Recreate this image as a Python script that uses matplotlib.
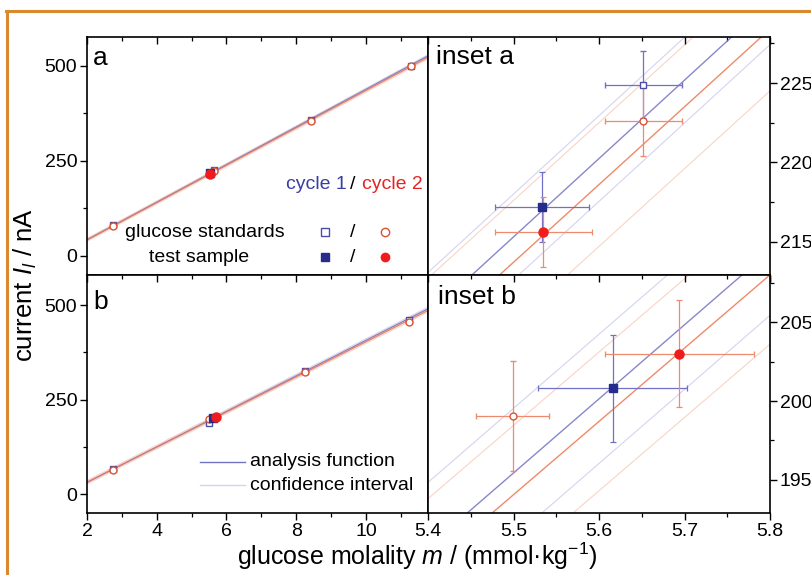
import numpy as np
import matplotlib
matplotlib.use("Agg")
import matplotlib.pyplot as plt
from matplotlib.lines import Line2D
from matplotlib.ticker import MultipleLocator

plt.rcParams['font.family'] = ['Liberation Sans', 'DejaVu Sans']
plt.rcParams['mathtext.fontset'] = 'custom'
plt.rcParams['mathtext.rm'] = 'Liberation Sans'
plt.rcParams['mathtext.it'] = 'Liberation Sans:italic'

# ---- data, panel a ----
std_m_a = [2.74, 5.652, 8.43, 11.29]
std_i1_a = [80.0, 224.9, 356.0, 500.0]
std_i2_a = [79.0, 222.6, 354.0, 498.0]
std_merr_a = [0.045, 0.045]
std_ierr_a = [2.1, 2.2]
test_m_a = [5.533, 5.535]
test_i_a = [217.2, 215.6]
test_merr_a = [0.055, 0.057]
test_ierr_a = [2.2, 2.2]
slope_a = [49.4, 49.0]
icpt_a = [-56.4, -55.8]
ci_a = [2.7, 3.9]

# ---- data, panel b ----
std_m1_b = [2.74, 5.499, 8.26, 11.23]
std_m2_b = [2.74, 5.499, 8.26, 11.23]
std_i1_b = [65.5, 189.0, 326.0, 462.0]
std_i2_b = [63.5, 199.05, 324.0, 455.0]
std_merr_b = [0.043, 0.043]
std_ierr_b = [3.4, 3.5]
test_m_b = [5.616, 5.694]
test_i_b = [200.8, 203.0]
test_merr_b = [0.087, 0.087]
test_ierr_b = [3.4, 3.4]
slope_b = [47.0, 46.5]
icpt_b = [-63.06, -61.69]
ci_b = [4.1, 4.4]

# colours
c_line = ['#7272c2', '#ec7650']
c_faint = ['#d4d4f0', '#f9d4c6']
c_err = ['#7070c8', '#f08a6c']
c_open = ['#4a4ea8', '#d85434']
c_fill = ['#262c8c', '#ee1c1c']
mk = ['s', 'o']

W, H = 811, 575
fig = plt.figure(figsize=(W / 100, H / 100), dpi=100)


def px(x, y):
    return x / W, 1 - y / H


def rect(x0, y0, x1, y1):
    return [x0 / W, 1 - y1 / H, (x1 - x0) / W, (y1 - y0) / H]


axa = fig.add_axes(rect(87, 37, 428, 275))
axb = fig.add_axes(rect(87, 275, 428, 513))
axia = fig.add_axes(rect(428, 37, 770, 275))
axib = fig.add_axes(rect(428, 275, 770, 513))


def draw(ax, xlim, slopes, icpts, cis, std_m, std_i, std_merr, std_ierr,
         t_m, t_i, t_merr, t_ierr, lw):
    xx = np.linspace(xlim[0], xlim[1], 50)
    for k in range(2):
        yy = slopes[k] * xx + icpts[k]
        ax.plot(xx, yy - cis[k], color=c_faint[k], lw=0.8, zorder=1)
        ax.plot(xx, yy + cis[k], color=c_faint[k], lw=0.8, zorder=1)
    for k in range(2):
        yy = slopes[k] * xx + icpts[k]
        ax.plot(xx, yy, color=c_line[k], lw=lw, alpha=0.85, zorder=2)
    for k in range(2):
        ax.errorbar(std_m[k], std_i[k], xerr=std_merr[k], yerr=std_ierr[k],
                    fmt=mk[k], ms=5, mfc='white', mec=c_open[k], mew=1.0,
                    ecolor=c_err[k], elinewidth=0.9, capsize=2, capthick=0.9,
                    zorder=3)
        ax.errorbar([t_m[k]], [t_i[k]], xerr=t_merr[k], yerr=t_ierr[k],
                    fmt=mk[k], ms=5.5 + k, mfc=c_fill[k], mec=c_fill[k],
                    ecolor=c_err[k], elinewidth=0.9, capsize=2, capthick=0.9,
                    zorder=4)
    ax.set_xlim(xlim)


draw(axa, (2, 11.78), slope_a, icpt_a, ci_a,
     [std_m_a, std_m_a], [std_i1_a, std_i2_a], std_merr_a, std_ierr_a,
     test_m_a, test_i_a, test_merr_a, test_ierr_a, 0.9)
draw(axia, (5.4, 5.8), slope_a, icpt_a, ci_a,
     [std_m_a, std_m_a], [std_i1_a, std_i2_a], std_merr_a, std_ierr_a,
     test_m_a, test_i_a, test_merr_a, test_ierr_a, 1.0)
draw(axb, (2, 11.78), slope_b, icpt_b, ci_b,
     [std_m1_b, std_m2_b], [std_i1_b, std_i2_b], std_merr_b, std_ierr_b,
     test_m_b, test_i_b, test_merr_b, test_ierr_b, 0.9)
draw(axib, (5.4, 5.8), slope_b, icpt_b, ci_b,
     [std_m1_b, std_m2_b], [std_i1_b, std_i2_b], std_merr_b, std_ierr_b,
     test_m_b, test_i_b, test_merr_b, test_ierr_b, 1.0)

axa.set_ylim(-50, 575)
axb.set_ylim(-50, 580)
axia.set_ylim(212.9, 227.9)
axib.set_ylim(192.9, 208.0)

for ax in (axa, axb):
    ax.xaxis.set_major_locator(MultipleLocator(2))
    ax.xaxis.set_minor_locator(MultipleLocator(1))
    ax.yaxis.set_major_locator(MultipleLocator(250))
    ax.yaxis.set_minor_locator(MultipleLocator(125))
    ax.tick_params(axis='y', which='both', left=True, right=False, direction='out')
for ax in (axia, axib):
    ax.xaxis.set_major_locator(MultipleLocator(0.1))
    ax.xaxis.set_minor_locator(MultipleLocator(0.05))
    ax.yaxis.set_major_locator(MultipleLocator(5))
    ax.yaxis.set_minor_locator(MultipleLocator(2.5))
    ax.yaxis.tick_right()
    ax.tick_params(axis='y', which='both', left=False, right=True, direction='out')
    ax.xaxis.set_major_formatter(plt.FuncFormatter(lambda v, p: f'{v:.1f}'))

for ax in (axa, axb, axia, axib):
    ax.tick_params(axis='x', which='both', bottom=True, top=True)
    ax.tick_params(axis='both', which='major', length=5, width=1.0, labelsize=14,
                   pad=2)
    ax.tick_params(axis='both', which='minor', length=3, width=0.9)
    for s in ax.spines.values():
        s.set_linewidth(1.2)
    ax.xaxis.set_tick_params(which='both', direction='out')
for ax in (axa, axia):
    ax.tick_params(axis='x', labelbottom=False)
for ax in (axa, axb, axia, axib):
    for t in ax.xaxis.get_major_ticks() + ax.xaxis.get_minor_ticks():
        t.tick2line.set_marker(3)  # top ticks pointing inward

# panel labels
fig.text(*px(93, 58), 'a', fontsize=19, va='center', ha='left')
fig.text(*px(93, 302), 'b', fontsize=19, va='center', ha='left')
fig.text(*px(436, 57), 'inset a', fontsize=19, va='center', ha='left')
fig.text(*px(438, 297), 'inset b', fontsize=19, va='center', ha='left')

# cycle header
fig.text(*px(286, 184), 'cycle 1', color='#3a3ea4', fontsize=14, va='center', ha='left')
fig.text(*px(353, 184), '/', color='black', fontsize=14, va='center', ha='center')
fig.text(*px(362, 184), 'cycle 2', color='#e42424', fontsize=14, va='center', ha='left')

# marker legend
fig.text(*px(205, 232), 'glucose standards', fontsize=14, va='center', ha='center')
fig.text(*px(199, 257), 'test sample', fontsize=14, va='center', ha='center')
fig.text(*px(353, 232), '/', fontsize=14, va='center', ha='center')
fig.text(*px(353, 257), '/', fontsize=14, va='center', ha='center')
for xm, ym, m, fc, ec in [(325, 232, 's', 'white', c_open[0]),
                          (385, 232, 'o', 'white', c_open[1]),
                          (325, 257, 's', c_fill[0], c_fill[0]),
                          (385, 257, 'o', c_fill[1], c_fill[1])]:
    x, y = px(xm, ym)
    fig.add_artist(Line2D([x], [y], marker=m, ms=6, mfc=fc, mec=ec, mew=1.0,
                          transform=fig.transFigure, lw=0))

# line legend
for yl, col, lab in [(462, c_line[0], 'analysis function'),
                     (485, c_faint[0], 'confidence interval')]:
    x0, y0 = px(200, yl)
    x1, _ = px(245, yl)
    fig.add_artist(Line2D([x0, x1], [y0, y0], color=col, lw=1.0,
                          transform=fig.transFigure))
    fig.text(*px(250, yl), lab, fontsize=14, va='center', ha='left')

# axis labels
fig.text(*px(25, 285), r'current $I_l$ / nA', fontsize=18.5, rotation=90,
         va='center', ha='center')
fig.text(*px(417, 556), r'glucose molality $m$ / (mmol·kg$^{-1}$)', fontsize=18,
         va='center', ha='center')

# orange frame (top and left edges)
fig.add_artist(Line2D([6 / W, 1], [1 - 11 / H, 1 - 11 / H], color='#d98a2c', lw=2.2,
                      transform=fig.transFigure))
fig.add_artist(Line2D([7 / W, 7 / W], [0, 1 - 11 / H], color='#d98a2c', lw=2.2,
                      transform=fig.transFigure))

fig.savefig('out.png', dpi=100)
